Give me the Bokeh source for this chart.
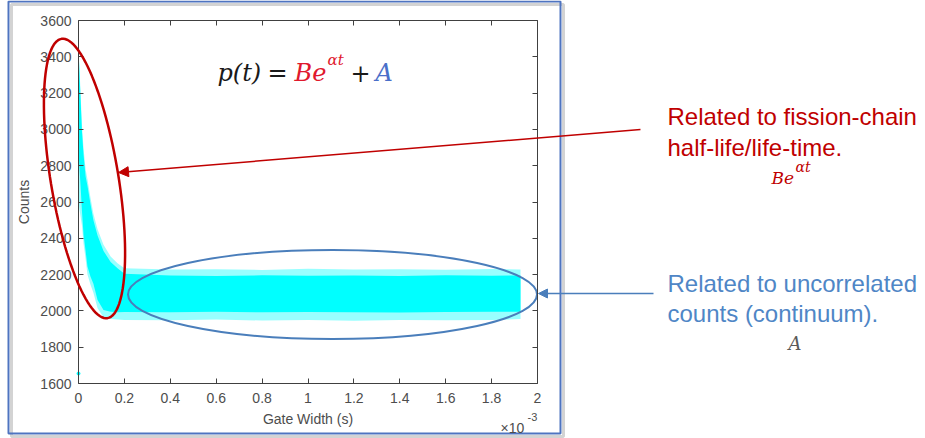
import math
from bokeh.plotting import figure
from bokeh.models import (Range1d, LinearAxis, FixedTicker, PolyAnnotation, Arrow,
                          NormalHead, Label, CustomJSTickFormatter, ColumnDataSource)
from bokeh.embed import file_html
from bokeh.resources import INLINE

# ---------------- data (gate width in units of 1e-3 s, counts) ----------------
gate_width = [0.0, 0.004, 0.009, 0.015, 0.022, 0.031, 0.039, 0.052, 0.065, 0.083, 0.109,
              0.14, 0.17, 0.2, 0.4, 0.6, 0.8, 1.0, 1.2, 1.4, 1.6, 1.8, 1.926]
core_upper = [3440, 3320, 3170, 2990, 2860, 2740, 2690, 2590, 2500, 2415, 2330,
              2270, 2235, 2205, 2195, 2192, 2196, 2193, 2195, 2192, 2196, 2194, 2195]
core_lower = [2880, 2790, 2690, 2550, 2420, 2330, 2245, 2190, 2150, 2060, 2005,
              1995, 1993, 1994, 1993, 1995, 1992, 1994, 1993, 1991, 1994, 1995, 1996]
fringe_upper = [3450, 3345, 3200, 3025, 2895, 2780, 2725, 2625, 2535, 2450, 2365,
                2300, 2262, 2235, 2228, 2230, 2226, 2232, 2228, 2230, 2227, 2231, 2228]
fringe_lower = [2600, 2560, 2520, 2470, 2370, 2285, 2200, 2145, 2100, 2015, 1965,
                1955, 1952, 1950, 1948, 1952, 1947, 1950, 1946, 1950, 1948, 1950, 1955]
outlier_x = [0.0]
outlier_y = [1655]

x_ticks = [0, 0.2, 0.4, 0.6, 0.8, 1.0, 1.2, 1.4, 1.6, 1.8, 2.0]
y_ticks = [1600, 1800, 2000, 2200, 2400, 2600, 2800, 3000, 3200, 3400, 3600]
X0, X1, Y0, Y1 = 0.0, 2.0, 1600.0, 3600.0

# ---------------- layout (pixels of the 925x438 page) ----------------
W, H = 925, 438
FL, FT, FW, FH = 78, 20, 459, 363      # where the axes box sits on the page
PAD_L, PAD_B = 150, 120                # off-page panels that only hold the axes


def dx(px):
    return X0 + (px - FL) * (X1 - X0) / FW


def dy(py):
    return Y0 + (FT + FH - py) * (Y1 - Y0) / FH


p = figure(x_range=Range1d(dx(0), dx(W)), y_range=Range1d(dy(H), dy(0)),
           frame_width=W, frame_height=H,
           min_border_left=PAD_L, min_border_right=0,
           min_border_top=0, min_border_bottom=PAD_B,
           x_axis_location=None, y_axis_location=None,
           output_backend="svg", toolbar_location=None,
           background_fill_color="white", border_fill_color="white",
           margin=(0, 0, -PAD_B, -PAD_L))
p.xgrid.visible = False
p.ygrid.visible = False
p.outline_line_color = None

AX = "#404040"
TXT = "#4d4d4d"


def style_axis(ax):
    ax.axis_line_color = AX
    ax.major_tick_line_color = AX
    ax.minor_tick_line_color = None
    ax.major_label_text_font = "Liberation Sans"
    ax.major_label_text_font_size = "14px"
    ax.major_label_text_color = TXT
    ax.axis_label_text_font = "Liberation Sans"
    ax.axis_label_text_font_size = "14px"
    ax.axis_label_text_font_style = "normal"
    ax.axis_label_text_color = TXT


xfmt = CustomJSTickFormatter(code="return tick.toFixed(1).replace(/\\.0$/, '');")
empty = CustomJSTickFormatter(code="return '';")

xax = LinearAxis(fixed_location=Y0, bounds=(X0, X1), ticker=FixedTicker(ticks=x_ticks),
                 formatter=xfmt, axis_label="Gate Width (s)")
yax = LinearAxis(fixed_location=X0, bounds=(Y0, Y1), ticker=FixedTicker(ticks=y_ticks),
                 axis_label="Counts")
tax = LinearAxis(fixed_location=Y1, bounds=(X0, X1), ticker=FixedTicker(ticks=x_ticks),
                 formatter=empty)
rax = LinearAxis(fixed_location=X1, bounds=(Y0, Y1), ticker=FixedTicker(ticks=y_ticks),
                 formatter=empty)
for ax in (xax, yax, tax, rax):
    style_axis(ax)
for ax in (xax, yax):
    ax.major_tick_in = 5
    ax.major_tick_out = 0
for ax in (tax, rax):
    ax.major_tick_in = 0
    ax.major_tick_out = 5
    ax.major_label_text_font_size = "0px"
    ax.major_label_standoff = 0
xax.major_label_standoff = 9
xax.axis_label_standoff = 5
yax.major_label_standoff = 7
yax.axis_label_standoff = 5
p.add_layout(xax, "below")
p.add_layout(tax, "below")
p.add_layout(yax, "left")
p.add_layout(rax, "left")

# ---------------- data marks ----------------
src = ColumnDataSource(dict(x=gate_width, hi=core_upper, lo=core_lower,
                            fhi=fringe_upper, flo=fringe_lower))
CYAN = "#00ffff"
p.varea(x="x", y1="flo", y2="fhi", source=src, fill_color=CYAN, fill_alpha=0.4)
p.varea(x="x", y1="lo", y2="hi", source=src, fill_color=CYAN, fill_alpha=1.0)
p.scatter(outlier_x, outlier_y, size=3, color=CYAN)

# ---------------- annotations ----------------
RED = "#c00000"
BLUE = "#4a7ebb"

# blue ellipse around the continuum
p.ellipse(x=[dx(332)], y=[dy(294)], width=[dx(536) - dx(127)], height=[dy(250) - dy(339)],
          fill_color=None, line_color=BLUE, line_width=2)

# red tilted ellipse around the decay
cx, cy, a, b = 84.0, 178.0, 142.0, 34.0
dvx, dvy = 46 / 283.7, 279 / 283.7
nvx, nvy = dvy, -dvx
exs, eys = [], []
for i in range(121):
    t = 2 * math.pi * i / 120
    u, v = a * math.cos(t), b * math.sin(t)
    exs.append(dx(cx + u * dvx + v * nvx))
    eys.append(dy(cy + u * dvy + v * nvy))
p.add_layout(PolyAnnotation(xs=exs, ys=eys, xs_units="data", ys_units="data",
                            fill_color=None, fill_alpha=0, line_color=RED,
                            line_alpha=1.0, line_width=2.5))

# outer picture frame with a soft shadow
p.add_layout(PolyAnnotation(xs=[dx(11), dx(563), dx(563), dx(11)],
                            ys=[dy(4), dy(4), dy(436), dy(436)],
                            fill_color=None, fill_alpha=0, line_color="#a8a8a8",
                            line_alpha=0.5, line_width=3))
p.add_layout(PolyAnnotation(xs=[dx(8), dx(560), dx(560), dx(8)],
                            ys=[dy(1), dy(1), dy(433), dy(433)],
                            fill_color=None, fill_alpha=0, line_color="#4f74c0",
                            line_alpha=1.0, line_width=2))

# arrows
p.add_layout(Arrow(x_start=dx(640), y_start=dy(129), x_end=dx(118), y_end=dy(172),
                   line_color=RED, line_width=1.5,
                   end=NormalHead(size=10, fill_color=RED, line_color=RED)))
p.add_layout(Arrow(x_start=dx(653), y_start=dy(293), x_end=dx(538), y_end=dy(293),
                   line_color=BLUE, line_width=1.5,
                   end=NormalHead(size=9, fill_color=BLUE, line_color=BLUE)))


def lab(px, py, text, size, color, font="Liberation Sans", style="normal"):
    p.add_layout(Label(x=dx(px), y=dy(py), text=text, text_font=font,
                       text_font_size=f"{size}px", text_color=color, text_font_style=style,
                       text_baseline="alphabetic", text_align="left"))


SERIF = "DejaVu Serif"
FRED = "#e0182d"
# formula
lab(217, 72, "p(t)", 24, "#1a1a1a", SERIF, "italic")
lab(267, 72, "=", 24, "#1a1a1a", SERIF)
lab(294, 72, "Be", 24, FRED, SERIF, "italic")
lab(327, 59, "αt", 15, FRED, SERIF, "italic")
lab(350, 72, "+", 24, "#1a1a1a", SERIF)
lab(375, 72, "A", 24, "#4a6fc9", SERIF, "italic")

# right-side notes
lab(667, 116, "Related to fission-chain", 24, RED)
lab(667, 147, "half-life/life-time.", 24, RED)
lab(771, 177, "Be", 17, RED, SERIF, "italic")
lab(795, 166, "αt", 14, RED, SERIF, "italic")
lab(667, 283, "Related to uncorrelated", 24, "#4f86c6")
lab(667, 313, "counts (continuum).", 24, "#4f86c6")
lab(788, 343, "A", 18, "#595959", SERIF, "italic")

# x-axis exponent
lab(500, 427, "×10", 14, TXT)
lab(527, 416, "-3", 11, TXT)

open("out.html", "w").write(file_html(p, INLINE))
